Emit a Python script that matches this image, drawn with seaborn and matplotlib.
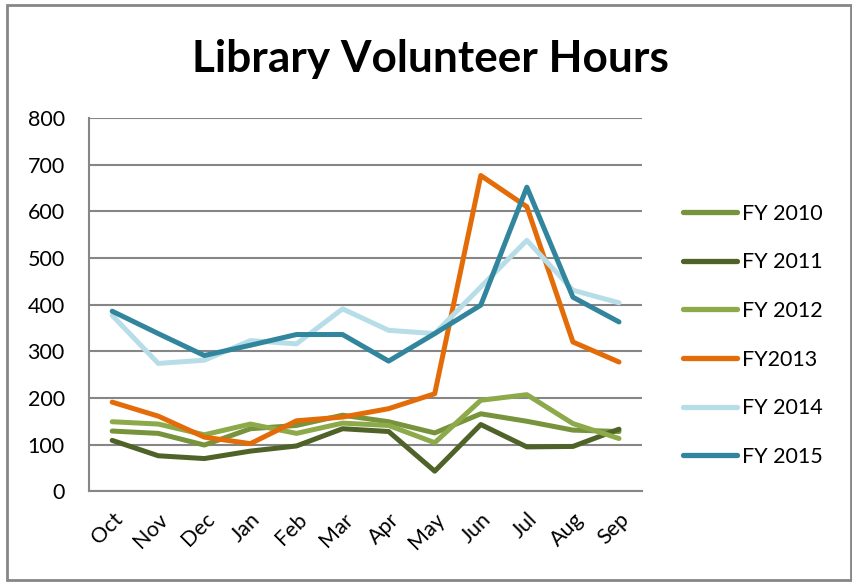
import pandas as pd
import matplotlib as mpl
import matplotlib.pyplot as plt
import seaborn as sns
from matplotlib.lines import Line2D

months = ['Oct', 'Nov', 'Dec', 'Jan', 'Feb', 'Mar', 'Apr', 'May', 'Jun', 'Jul', 'Aug', 'Sep']
series = ['FY 2010', 'FY 2011', 'FY 2012', 'FY2013', 'FY 2014', 'FY 2015']
fy2010 = [129, 124, 99, 134, 141, 163, 149, 125, 166, 150, 131, 128]
fy2011 = [109, 76, 70, 86, 97, 134, 128, 43, 143, 95, 96, 133]
fy2012 = [149, 144, 121, 144, 124, 146, 141, 104, 195, 207, 145, 113]
fy2013 = [191, 161, 116, 102, 151, 159, 177, 209, 677, 610, 320, 277]
fy2014 = [377, 274, 281, 323, 316, 391, 345, 338, 438, 538, 431, 404]
fy2015 = [386, 338, 291, 313, 336, 336, 279, 338, 399, 652, 416, 363]
colors = ['#77933C', '#4F6228', '#8DAA4B', '#E36C09', '#B7DEE8', '#31859C']

values = [fy2010, fy2011, fy2012, fy2013, fy2014, fy2015]
rows = []
for name, vals in zip(series, values):
    for i, v in enumerate(vals):
        rows.append({'pos': i, 'Month': months[i], 'Series': name, 'Hours': v})
df = pd.DataFrame(rows)

sns.set_style('white')
mpl.rcParams['font.family'] = ['Lato', 'DejaVu Sans']
mpl.rcParams['text.color'] = 'black'
mpl.rcParams['xtick.color'] = 'black'
mpl.rcParams['ytick.color'] = 'black'

grid_col = '#868686'
fig = plt.figure(figsize=(8.53, 5.82), dpi=100)
fig.patch.set_facecolor('white')
ax = fig.add_axes([0.1045, 0.156, 0.6482, 0.641])

sns.lineplot(data=df, x='pos', y='Hours', hue='Series', hue_order=series,
             palette=colors, linewidth=3.6, ax=ax, legend=False, zorder=3)

ax.set_xlim(-0.5, 11.5)
ax.set_ylim(0, 800)
ax.set_yticks(range(0, 801, 100))
ax.yaxis.grid(True, color=grid_col, linewidth=1.5, zorder=0)
ax.set_axisbelow(True)

ax.set_xticks([x - 0.5 for x in range(13)])
ax.set_xticklabels([])
ax.set_xticks(range(12), minor=True)
ax.set_xticklabels(months, minor=True, rotation=45, ha='right',
                   rotation_mode='anchor', fontsize=15.5)
ax.tick_params(axis='x', which='minor', length=0, pad=13)
ax.tick_params(axis='x', which='major', length=5.5, width=1.5, color=grid_col,
               direction='out')
ax.tick_params(axis='y', length=5.5, width=1.5, color=grid_col, direction='out',
               labelsize=15.5, pad=12, labelcolor='black')
ax.tick_params(axis='x', labelcolor='black', which='both')
ax.set_xlabel('')
ax.set_ylabel('')

for s in ['top', 'right']:
    ax.spines[s].set_visible(False)
for s in ['left', 'bottom']:
    ax.spines[s].set_color(grid_col)
    ax.spines[s].set_linewidth(1.5)

fig.text(0.505, 0.876, 'Library Volunteer Hours', ha='center', va='baseline',
         fontsize=31.8, fontweight='bold', color='black')

handles = [Line2D([0], [0], color=c, linewidth=3.8, solid_capstyle='round') for c in colors]
fig.legend(handles, series, loc='center left', bbox_to_anchor=(0.801, 0.424),
           frameon=False, fontsize=15.5, handlelength=2.5, handletextpad=0.25,
           labelspacing=1.33, borderaxespad=0, borderpad=0)

border = plt.Rectangle((0.008, 0.003), 0.99, 0.988, transform=fig.transFigure,
                       fill=False, edgecolor=grid_col, linewidth=2)
fig.patches.append(border)

fig.savefig('out.png', dpi=100)
